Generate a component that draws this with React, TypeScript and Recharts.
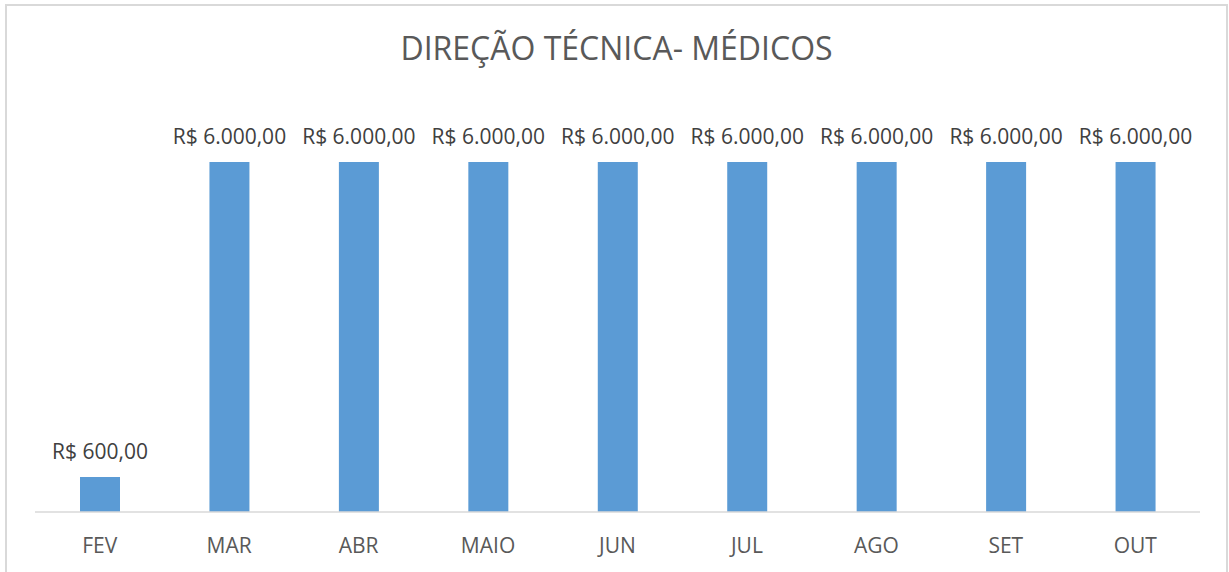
import React from "react";
import { BarChart, Bar, XAxis, YAxis, LabelList } from "recharts";

const months = ["FEV", "MAR", "ABR", "MAIO", "JUN", "JUL", "AGO", "SET", "OUT"];
const values = [600, 6000, 6000, 6000, 6000, 6000, 6000, 6000, 6000];
const title = "DIREÇÃO TÉCNICA- MÉDICOS";

const data = months.map((m, i) => ({ month: m, value: values[i] }));

const fmt = (v: any) => {
  const n = Number(v);
  const [int, dec] = n.toFixed(2).split(".");
  const withDots = int.replace(/\B(?=(\d{3})+(?!\d))/g, ".");
  return `R$ ${withDots},${dec}`;
};

const FONT = "'Open Sans', sans-serif";

const ValueLabel = (props: any) => {
  const { x, y, width, value } = props;
  return (
    <text
      x={Number(x) + Number(width) / 2}
      y={Number(y) - 18}
      textAnchor="middle"
      fill="#404040"
      fontSize={21}
      fontFamily={FONT}
    >
      {fmt(value)}
    </text>
  );
};

export default function App() {
  return (
    <div
      style={{
        position: "absolute",
        left: 5,
        top: 4,
        width: 1223,
        height: 568,
        border: "2px solid #d9d9d9",
        borderBottom: "none",
        boxSizing: "border-box",
        background: "#fff",
        fontFamily: FONT,
      }}
    >
      <div
        style={{
          position: "absolute",
          left: 0,
          width: 1219,
          top: 20,
          textAlign: "center",
          fontSize: 32,
          color: "#595959",
          fontFamily: FONT,
          lineHeight: "44px",
        }}
      >
        {title}
      </div>
      <BarChart
        width={1219}
        height={566}
        data={data}
        margin={{ top: 156, right: 26, bottom: 0, left: 28 }}
      >
        <XAxis
          dataKey="month"
          height={60}
          tickLine={false}
          tickSize={0}
          tickMargin={26}
          axisLine={{ stroke: "#d9d9d9", strokeWidth: 1.5 }}
          tick={{ fill: "#595959", fontSize: 21, fontFamily: FONT }}
        />
        <YAxis hide domain={[0, 6000]} />
        <Bar dataKey="value" fill="#5b9bd5" barSize={40} isAnimationActive={false}>
          <LabelList dataKey="value" content={ValueLabel} />
        </Bar>
      </BarChart>
    </div>
  );
}
